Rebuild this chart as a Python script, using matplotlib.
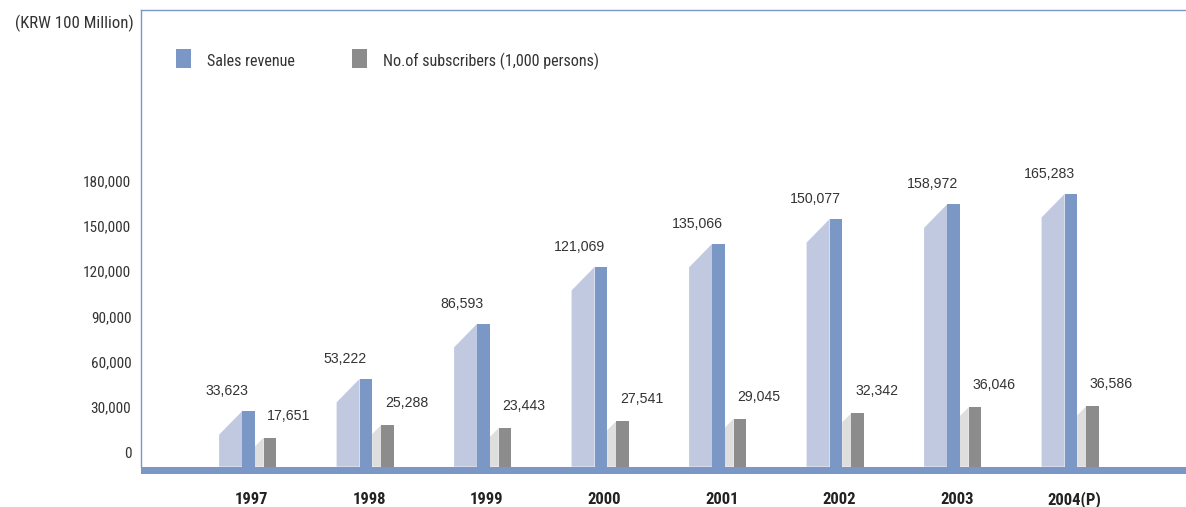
import matplotlib
matplotlib.use("Agg")
import matplotlib.pyplot as plt
from matplotlib import font_manager
from matplotlib.patches import Polygon, Rectangle
import numpy as np

# ---- data -------------------------------------------------------------
years = ["1997", "1998", "1999", "2000", "2001", "2002", "2003", "2004(P)"]
sales_revenue = [33623, 53222, 86593, 121069, 135066, 150077, 158972, 165283]
subscribers = [17651, 25288, 23443, 27541, 29045, 32342, 36046, 36586]
y_ticks = [0, 30000, 60000, 90000, 120000, 150000, 180000]
legend_labels = ["Sales revenue", "No.of subscribers (1,000 persons)"]
unit_label = "(KRW 100 Million)"

# ---- style ------------------------------------------------------------
BLUE = "#7a97c6"
LAVENDER = "#c1c9e1"
GRAY = "#8c8c8c"
LIGHT_GRAY = "#dedede"
TEXT = "#333333"


def pick_font(*names):
    have = {f.name for f in font_manager.fontManager.ttflist}
    for n in names:
        if n in have:
            return n
    return "DejaVu Sans"


NARROW = pick_font("Liberation Sans Narrow", "Arial Narrow", "Roboto Condensed",
                   "Liberation Sans")
REGULAR = pick_font("Liberation Sans", "Roboto", "DejaVu Sans")

W, H = 1186, 507
fig = plt.figure(figsize=(W / 100, H / 100), dpi=100)

# plot frame (pixel units measured from the top-left corner)
left_px, right_px, top_px, bottom_px = 141, 1186, 10.3, 474
height_px = bottom_px - top_px
ax = fig.add_axes([left_px / W, 1 - bottom_px / H,
                   (right_px - left_px) / W, height_px / H])
bx = ax.twinx()

# value scale shown on the left
tick_zero_px, tick_top_px = 452, 180.7
t_scale = (tick_zero_px - tick_top_px) / 180000.0
t_lo = -(bottom_px - tick_zero_px) / t_scale
ax.set_ylim(t_lo, t_lo + height_px / t_scale)

# scale used by the columns, whose floor is the blue band
band_top_px = 466.7
b_scale = 0.00165
b_lo = -(bottom_px - band_top_px) / b_scale
bx.set_ylim(b_lo, b_lo + height_px / b_scale)

# category spacing
pitch_px, first_px = 117.5, 248.4
x = np.arange(len(years))
x_lo = -(first_px - left_px) / pitch_px
ax.set_xlim(x_lo, x_lo + (right_px - left_px) / pitch_px)

# column geometry
front_w = 12.6 / pitch_px
side_w = 23.0 / pitch_px
bevel_b = 23.5 / b_scale
gside_w = 9.0 / pitch_px
gfront_w = 12.7 / pitch_px
bevel_g = 9.0 / b_scale
g_offset = front_w / 2 + gside_w + gfront_w / 2

for xc, s, n in zip(x, sales_revenue, subscribers):
    l = xc - front_w / 2
    bx.add_patch(Polygon([(l - side_w, 0), (l - side_w, s - bevel_b), (l, s), (l, 0)],
                         closed=True, fc=LAVENDER, ec="none", zorder=2))
    r = xc + front_w / 2
    bx.add_patch(Polygon([(r, 0), (r, n - bevel_g), (r + gside_w, n), (r + gside_w, 0)],
                         closed=True, fc=LIGHT_GRAY, ec="none", zorder=2))

bx.bar(x, sales_revenue, width=front_w, color=BLUE, lw=0, zorder=3)
bx.bar(x + g_offset, subscribers, width=gfront_w, color=GRAY, lw=0, zorder=3)

# floor band
bx.axhspan(b_lo, 0, color=BLUE, lw=0, zorder=4)

# value labels
PT = 0.72  # points per pixel at 100 dpi
for xc, s, n in zip(x, sales_revenue, subscribers):
    bx.annotate(f"{s:,}", xy=(xc, s), xytext=(-21 * PT, 16 * PT),
                textcoords="offset points", ha="center", va="baseline",
                fontsize=10.2, family=REGULAR, color=TEXT)
    bx.annotate(f"{n:,}", xy=(xc + g_offset, n), xytext=(19 * PT, 18 * PT),
                textcoords="offset points", ha="center", va="baseline",
                fontsize=10.2, family=REGULAR, color=TEXT)

# axes decoration
for side in ("right", "bottom"):
    ax.spines[side].set_visible(False)
    bx.spines[side].set_visible(False)
for side in ("left", "top"):
    ax.spines[side].set_color(BLUE)
    ax.spines[side].set_linewidth(1.0)
ax.spines["left"].set_bounds(t_lo + (bottom_px - band_top_px) / t_scale, ax.get_ylim()[1])
bx.spines["left"].set_visible(False)
bx.spines["top"].set_visible(False)

ax.set_yticks(y_ticks, [f"{v:,}" for v in y_ticks])
ax.tick_params(axis="y", length=0, pad=7, labelsize=11, labelcolor=TEXT)
for t in ax.get_yticklabels():
    t.set_family(NARROW)

# year labels share one baseline ~30 px under the frame
ax.set_xticks(x + 0.03, years)
ax.tick_params(axis="x", length=0, pad=30 * PT, labelsize=12, labelcolor="#222222")
for t in ax.get_xticklabels():
    t.set_family(NARROW)
    t.set_fontweight("bold")
    t.set_verticalalignment("baseline")

bx.set_yticks([])
bx.tick_params(axis="x", length=0, labelbottom=False)
ax.set_zorder(bx.get_zorder() + 1)
ax.patch.set_visible(False)

# unit label
fig.text(134 / W, 1 - 28.5 / H, unit_label, ha="right", va="baseline",
         fontsize=12.1, family=NARROW, color=TEXT)

# legend
legend_items = [(175.7, BLUE, 206.7), (352.3, GRAY, 383.3)]
for (sx, col, tx), lab in zip(legend_items, legend_labels):
    fig.add_artist(Rectangle((sx / W, 1 - 68.3 / H), 15 / W, 19 / H,
                             transform=fig.transFigure, fc=col, ec="none"))
    fig.text(tx / W, 1 - 65.7 / H, lab, ha="left", va="baseline",
             fontsize=11.6, family=NARROW, color=TEXT)

fig.savefig("out.png", dpi=100)
